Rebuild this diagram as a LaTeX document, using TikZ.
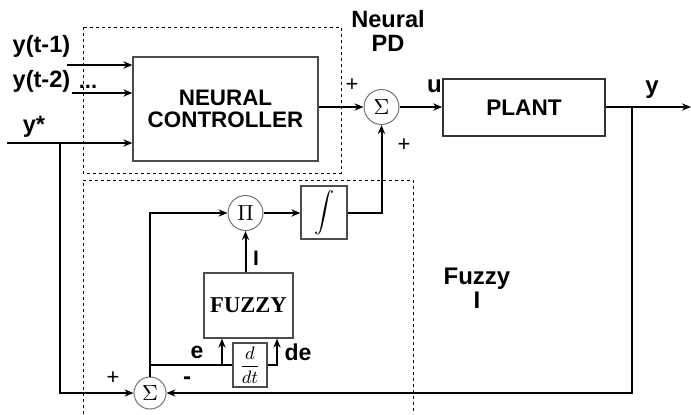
\documentclass[tikz,border=0pt]{standalone}
\usepackage{amsmath}
\usepackage{fontspec}
\setmainfont{Liberation Serif}
\setsansfont{Liberation Sans}
\usetikzlibrary{arrows.meta}

\begin{document}
\begin{tikzpicture}[x=0.5pt,y=-0.5pt,>={Stealth[length=4.5pt,width=3.6pt]},
  wire/.style={line width=1pt},
  sig/.style={wire,->},
  blk/.style={draw=black!70,line width=0.6pt,inner sep=0pt},
  junc/.style={circle,draw=black!55,line width=0.5pt,inner sep=0pt,
    font=\fontsize{11}{11}\selectfont},
  zone/.style={line width=0.5pt,dash pattern=on 1.6pt off 1.4pt},
  lbl/.style={font=\sffamily\bfseries\fontsize{#1}{#1}\selectfont},
  lbl/.default=11,
  sgn/.style={font=\sffamily\fontsize{11}{11}\selectfont}]
  \useasboundingbox (0,0) rectangle (691,414);
  % dashed zones
  \draw[zone] (83,27) rectangle (341,173);
  \draw[zone] (83,414) -- (83,180) -- (413,180) -- (413,414);
  % blocks
  \node[blk,minimum width=92.5pt,minimum height=52pt,align=center,
    lbl=11.2,text depth=0pt] (ctrl) at (225.5,109)
    {\fontsize{11.2}{13}\selectfont NEURAL\\CONTROLLER};
  \node[junc,minimum size=17.5pt] (sumtop) at (381.5,107) {$\Sigma$};
  \node[blk,draw=black!80,line width=0.8pt,minimum width=81pt,minimum height=28.5pt,
    lbl=11.3] (plant) at (524,107.5) {PLANT};
  \node[junc,minimum size=17.5pt] (prod) at (245.5,213) {$\Pi$};
  \node[blk,minimum width=23pt,minimum height=26.5pt] (integ) at (324,212.5)
    {$\displaystyle\int$};
  \node[blk,minimum width=44.5pt,minimum height=32.5pt,
    font=\rmfamily\bfseries\fontsize{11.3}{12}\selectfont] (fuzzy) at (248.5,305.5) {FUZZY};
  \node[blk,minimum width=17pt,minimum height=22pt,
    font=\fontsize{9.5}{10}\selectfont] (ddt) at (250,365) {$\dfrac{d}{dt}$};
  \node[junc,minimum size=16pt] (sumbot) at (150,393) {$\Sigma$};
  % inputs of the neural controller
  \coordinate (in1) at (67,65);
  \coordinate (in2) at (72,93);
  \coordinate (in3) at (7,143);
  \coordinate (ybr) at (60,143);
  \draw[sig] (in1) -- (in1 -| ctrl.west);
  \draw[sig] (in2) -- (in2 -| ctrl.west);
  \draw[sig] (in3) -- (in3 -| ctrl.west);
  \node[lbl=11.8] (ly1) at (41.5,46) {y(t-1)};
  \node[lbl=11.8] (ly2) at (41.5,81) {y(t-2)};
  \node[lbl,anchor=base] (ldots) at (88,88) {...};
  \node[lbl=11.8] (lyref) at (34,127) {y*};
  % neural PD part
  \draw[sig] (ctrl.east |- sumtop.west) -- (sumtop.west);
  \draw[sig] (sumtop.east) -- (plant.west |- sumtop.east);
  \node[lbl=12] (lu) at (434.5,86) {u};
  \node[sgn] (pl1) at (352,85) {+};
  \node[sgn] (pl2) at (404,145) {+};
  \node[lbl=11.8,align=center] (lpd) at (388,31)
    {\fontsize{11.8}{13.5}\selectfont Neural\\PD};
  % plant output and feedback
  \coordinate (yout) at (691,107);
  \coordinate (ybr2) at (632,107);
  \draw[sig] (plant.east |- yout) -- (yout);
  \node[lbl=12] (ly) at (652,90) {y};
  \draw[sig] (ybr2) |- (sumbot.east);
  \draw[sig] (ybr) |- (sumbot.west);
  \node[sgn] (pl3) at (113,378) {+};
  \node[lbl=12] (mi1) at (187,381) {-};
  % fuzzy I part
  \draw[sig] (sumbot.north) |- (prod.west);
  \draw[sig] (prod.east) -- (integ.west |- prod.east);
  \draw[sig] (integ.east) -| (sumtop.south);
  \draw[sig] (fuzzy.north -| prod.south) -- (prod.south);
  \node[lbl=10.5] (lI) at (256,258) {I};
  \coordinate (etap) at (222,365);
  \coordinate (detap) at (277,365);
  \draw[wire] (sumbot.north |- ddt.west) -- (ddt.west);
  \draw[sig] (etap) -- (etap |- fuzzy.south);
  \draw[sig] (ddt.east) -- (detap) -- (detap |- fuzzy.south);
  \node[lbl=11.5] (le) at (197,352) {e};
  \node[lbl=11.5] (lde) at (298,352) {de};
  \node[lbl=12,align=center] (lfi) at (477,288)
    {\fontsize{12}{12.5}\selectfont Fuzzy\\I};
\end{tikzpicture}
\end{document}
